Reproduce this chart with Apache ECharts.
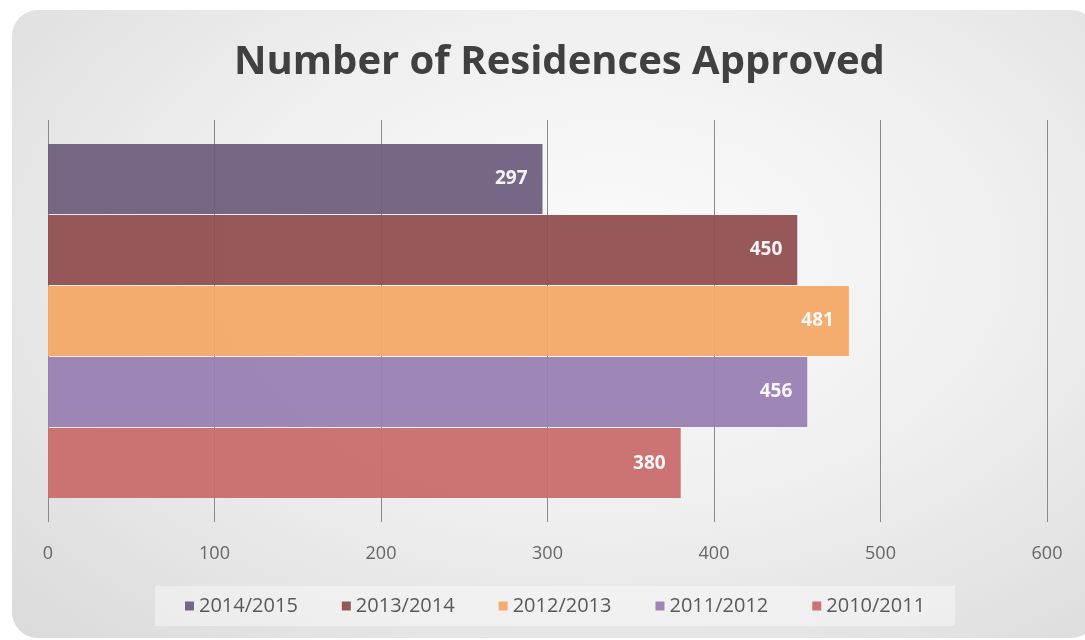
<!DOCTYPE html>
<html>
<head>
<meta charset="utf-8">
<script src="https://cdn.jsdelivr.net/npm/echarts@6/dist/echarts.min.js"></script>
<style>
  html, body { margin: 0; padding: 0; background: #fff; }
  #frame {
    position: absolute; left: 12px; top: 10px; width: 1085px; height: 628px;
    border-radius: 26px;
    background: radial-gradient(ellipse at 55% 40%, #fbfbfb 0%, #f0f0f0 45%, #dadada 100%);
  }
  #main { position: absolute; left: 0; top: 0; width: 1085px; height: 640px; }
</style>
</head>
<body>
<div id="frame"></div>
<div id="main"></div>
<script>
// 各年度批准的住宅数
const seasons = ['2014/2015', '2013/2014', '2012/2013', '2011/2012', '2010/2011'];
const approved = [297, 450, 481, 456, 380];
const palette = ['#6d5d7f', '#904e50', '#f3a865', '#9880b3', '#c96a6a'];

const chart = echarts.init(document.getElementById('main'));

const series = seasons.map((name, i) => ({
  name: name,
  type: 'bar',
  data: [approved[i]],
  barWidth: 70,
  barGap: '1.5%',
  itemStyle: { color: palette[i], opacity: 0.94 },
  label: {
    show: true,
    position: 'insideRight',
    distance: 15,
    color: '#fff',
    fontWeight: 'bold',
    fontSize: 19,
    fontFamily: 'Open Sans'
  }
}));

chart.setOption({
  backgroundColor: 'transparent',
  title: {
    text: 'Number of Residences Approved',
    left: 229,
    top: 38,
    textStyle: { fontFamily: 'Open Sans', fontSize: 40, fontWeight: 'bold', color: '#404040' }
  },
  legend: {
    data: seasons,
    bottom: 14,
    left: 155,
    itemWidth: 9,
    itemHeight: 9,
    itemGap: 44,
    icon: 'rect',
    padding: [10, 30],
    backgroundColor: 'rgba(255,255,255,0.4)',
    textStyle: { fontFamily: 'Open Sans', fontSize: 20, color: '#595959' }
  },
  grid: { left: 48, right: 38, top: 120, bottom: 118 },
  xAxis: {
    type: 'value',
    min: 0,
    max: 600,
    interval: 100,
    axisLine: { show: false },
    axisTick: { show: false },
    axisLabel: { margin: 23, fontFamily: 'Open Sans', fontSize: 18, color: '#666' },
    splitLine: { show: true, lineStyle: { color: '#8a8a8a', width: 1 } }
  },
  yAxis: {
    type: 'category',
    data: [''],
    inverse: true,
    axisLine: { show: false },
    axisTick: { show: false },
    axisLabel: { show: false }
  },
  series: series
});
</script>
</body>
</html>
